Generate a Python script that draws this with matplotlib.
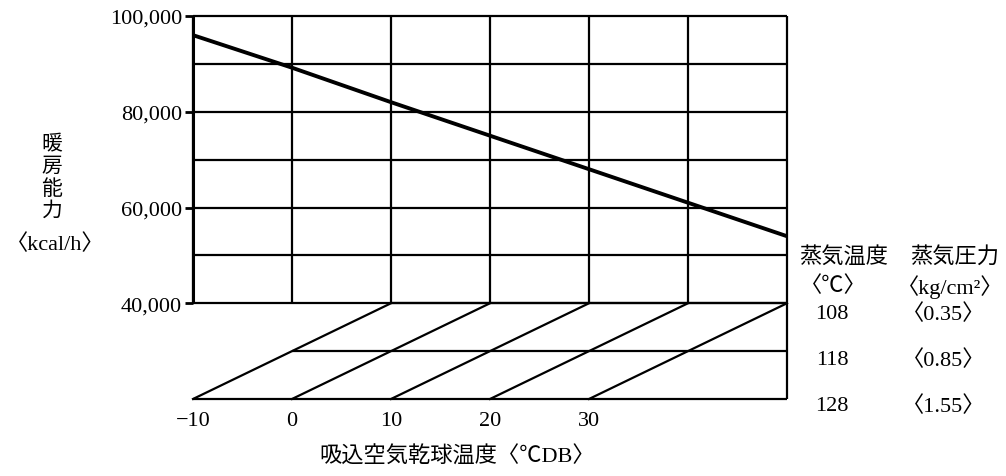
import matplotlib
matplotlib.use("Agg")
import matplotlib.pyplot as plt

plt.rcParams['font.family'] = ['Liberation Serif', 'Noto Sans CJK JP']

# heating capacity vs. intake air dry bulb temperature
temps = [-10, 0, 10, 20, 30, 40, 50]
capacity = [96000, 89200, 82000, 75000, 68000, 61000, 54000]

x_ticks = [-10, 0, 10, 20, 30]
x_tick_labels = ['−10', '0', '10', '20', '30']
y_ticks = [40000, 60000, 80000, 100000]
y_tick_labels = ['40,000', '60,000', '80,000', '100,000']
grid_levels = [40000, 50000, 60000, 70000, 80000, 90000, 100000]

steam_temp = ['108', '118', '128']
steam_press = ['〈0.35〉', '〈0.85〉', '〈1.55〉']

W, H = 1006, 477
fig = plt.figure(figsize=(W / 100, H / 100), dpi=100)
ax = fig.add_axes([193 / W, 1 - 400 / H, (787 - 193) / W, (400 - 17) / H])
ax.set_xlim(-10, 50)
ax.set_ylim(20000, 100000)
for s in ax.spines.values():
    s.set_visible(False)

lw = 1.6
# back wall
ax.vlines(temps, 40000, 100000, color='black', lw=lw, clip_on=False)
ax.vlines([-10], 40000, 100000, color='black', lw=2.2, clip_on=False)
ax.hlines(grid_levels, temps[0], temps[-1], color='black', lw=lw, clip_on=False)
ax.vlines([temps[-1]], 20000, 40000, color='black', lw=lw, clip_on=False)

# floor: one row per steam condition, each row shifted one column left
step = 10000
for k in range(len(steam_temp)):
    y = grid_levels[0] - k * step
    ax.hlines(y, x_ticks[2 - k], temps[-1], color='black', lw=lw, clip_on=False)
for t in x_ticks:
    ax.plot([t, t + 20], [grid_levels[0] - 2 * step, grid_levels[0]],
            color='black', lw=lw, clip_on=False)

# capacity line
ax.plot(temps, capacity, color='black', lw=2.8, clip_on=False, solid_capstyle='butt')

ax.set_yticks(y_ticks, y_tick_labels, fontsize=16)
ax.tick_params(axis='y', length=6, width=2, pad=2)
ax.set_xticks(x_ticks, x_tick_labels, fontsize=16)
ax.tick_params(axis='x', length=0, pad=9)

# axis titles
fig.text(52 / W, 1 - 179 / H, '暖\n房\n能\n力', ha='center', va='center',
         fontsize=15, linespacing=1.2)
fig.text(55 / W, 1 - 245 / H, '〈kcal/h〉', ha='center', va='center', fontsize=16)
fig.text(457 / W, 1 - 457 / H, '吸込空気乾球温度〈℃DB〉', ha='center', va='center',
         fontsize=16)

# steam table on the right
fig.text(844 / W, 1 - 257 / H, '蒸気温度', ha='center', va='center', fontsize=16)
fig.text(955 / W, 1 - 257 / H, '蒸気圧力', ha='center', va='center', fontsize=16)
fig.text(833 / W, 1 - 287 / H, '〈℃〉', ha='center', va='center', fontsize=16)
fig.text(950 / W, 1 - 287 / H, '〈kg/cm²〉', ha='center', va='center', fontsize=16)
for i, (st, sp) in enumerate(zip(steam_temp, steam_press)):
    yy = 315 + i * 46
    fig.text(832 / W, 1 - yy / H, st, ha='center', va='center', fontsize=16)
    fig.text(944 / W, 1 - yy / H, sp, ha='center', va='center', fontsize=16)

fig.savefig('out.png', dpi=100, facecolor='white')
